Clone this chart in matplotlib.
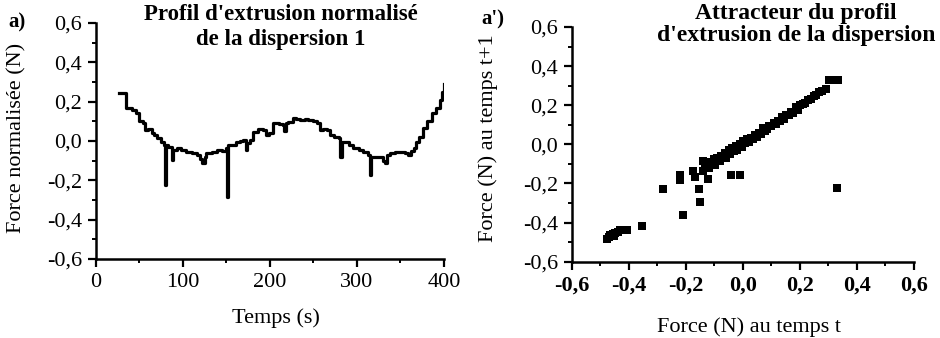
import matplotlib
matplotlib.use("Agg")
import matplotlib.pyplot as plt
from matplotlib.ticker import MultipleLocator, FuncFormatter

plt.rcParams['font.family'] = ['Liberation Serif', 'DejaVu Serif']

# ---------------- data ----------------
time_s = [26, 34, 35, 41, 46, 50, 54, 56, 60, 64, 67, 70, 75, 78, 79, 80, 83, 86, 87, 88,
          93, 98, 104, 110, 116, 120, 122, 125, 127, 133, 139, 145, 150, 151, 152, 156,
          161, 166, 169, 172, 174, 177, 181, 186, 192, 196, 199, 204, 210, 215, 216, 218,
          221, 226, 230, 234, 240, 244, 249, 254, 257, 261, 265, 269, 274, 279, 281, 283,
          286, 291, 296, 302, 307, 313, 315, 316, 322, 326, 330, 332, 335, 338, 344, 349,
          355, 359, 362, 365, 368, 371, 376, 381, 386, 391, 395, 398, 400]
force_norm = [0.243, 0.243, 0.167, 0.160, 0.143, 0.100, 0.092, 0.057, 0.060, 0.040, 0.030,
              0.014, -0.004, -0.020, -0.224, -0.020, -0.029, -0.030, -0.097, -0.046,
              -0.037, -0.045, -0.054, -0.060, -0.071, -0.090, -0.114, -0.080, -0.063,
              -0.055, -0.046, -0.050, -0.037, -0.284, -0.020, -0.020, -0.004, 0.000,
              0.005, -0.046, -0.010, 0.005, 0.048, 0.060, 0.057, 0.031, 0.040, 0.090,
              0.085, 0.082, 0.050, 0.090, 0.099, 0.116, 0.110, 0.107, 0.110, 0.107,
              0.100, 0.090, 0.056, 0.060, 0.056, 0.031, 0.020, 0.014, -0.080, -0.004,
              -0.004, -0.020, -0.037, -0.045, -0.054, -0.071, -0.173, -0.080, -0.080,
              -0.080, -0.100, -0.114, -0.070, -0.063, -0.055, -0.054, -0.060, -0.071,
              -0.050, -0.037, -0.005, 0.022, 0.064, 0.100, 0.141, 0.170, 0.209, 0.250,
              0.290]

force_t = [-0.478, -0.470, -0.462, -0.455, -0.448, -0.440, -0.432, -0.465, -0.452,
           -0.408, -0.355, -0.282, -0.221, -0.221, -0.212, -0.177, -0.169, -0.154,
           -0.152, -0.122, -0.041, -0.012, 0.330,
           -0.140, -0.140, -0.135, -0.130, -0.120, -0.118, -0.110, -0.100, -0.098,
           -0.090, -0.082, -0.078, -0.070, -0.062, -0.058, -0.050, -0.045, -0.040,
           -0.032, -0.025, -0.020, -0.012, -0.005, 0.000, 0.008, 0.015, 0.020, 0.028,
           0.035, 0.042, 0.050, 0.055, 0.062, 0.070, 0.078, 0.085, 0.092, 0.100,
           0.108, 0.115, 0.122, 0.130, 0.138, 0.145, 0.152, 0.160, 0.168, 0.175,
           0.185, 0.192, 0.200, 0.210, 0.218, 0.228, 0.238, 0.248, 0.258, 0.268,
           0.278, 0.290, 0.303, 0.318, 0.332]
force_t1 = [-0.483, -0.475, -0.468, -0.460, -0.452, -0.446, -0.440, -0.465, -0.470,
            -0.440, -0.419, -0.228, -0.155, -0.181, -0.359, -0.138, -0.169, -0.228,
            -0.293, -0.176, -0.155, -0.155, -0.225,
            -0.086, -0.138, -0.110, -0.095, -0.120, -0.090, -0.100, -0.075, -0.105,
            -0.070, -0.085, -0.060, -0.065, -0.045, -0.070, -0.030, -0.050, -0.018,
            -0.035, -0.010, -0.028, 0.000, -0.012, 0.015, 0.005, 0.025, 0.012, 0.035,
            0.028, 0.048, 0.040, 0.060, 0.052, 0.086, 0.070, 0.080, 0.095, 0.092,
            0.110, 0.105, 0.122, 0.118, 0.140, 0.132, 0.150, 0.148, 0.165, 0.160,
            0.190, 0.178, 0.200, 0.205, 0.212, 0.225, 0.232, 0.245, 0.250, 0.267,
            0.272, 0.285, 0.328, 0.330, 0.328]

y_ticks = [-0.6, -0.4, -0.2, 0.0, 0.2, 0.4, 0.6]
x_ticks_left = [0, 100, 200, 300, 400]
x_ticks_right = [-0.6, -0.4, -0.2, 0.0, 0.2, 0.4, 0.6]

def comma_fmt(v, pos=None):
    s = f"{v:.1f}".replace('.', ',')
    if s == "-0,0":
        s = "0,0"
    return s

# ---------------- figure ----------------
fig = plt.figure(figsize=(9.4, 3.38), dpi=100)
ax1 = fig.add_axes([0.1021, 0.2337, 0.3702, 0.6982])
ax2 = fig.add_axes([0.6085, 0.2257, 0.3638, 0.6943])

for ax in (ax1, ax2):
    for sp in ('top', 'right'):
        ax.spines[sp].set_visible(False)
    for sp in ('left', 'bottom'):
        ax.spines[sp].set_linewidth(1.8)
    ax.set_ylim(-0.6, 0.6)
    ax.set_yticks(y_ticks)
    ax.yaxis.set_major_formatter(FuncFormatter(comma_fmt))
    ax.yaxis.set_minor_locator(MultipleLocator(0.1))
    ax.tick_params(which='major', direction='out', length=6, width=1.6,
                   labelsize=16, pad=4)
    ax.tick_params(which='minor', direction='out', length=3, width=1.4)

# left: time series
ax1.plot(time_s, force_norm, color='black', linewidth=2.3, drawstyle='steps-post')
ax1.set_xlim(0, 400)
ax1.set_xticks(x_ticks_left)
ax1.xaxis.set_minor_locator(MultipleLocator(50))

# right: attractor
ax2.scatter(force_t, force_t1, marker='s', s=34, color='black', linewidths=0)
ax2.set_xlim(-0.6, 0.6)
ax2.set_xticks(x_ticks_right)
ax2.xaxis.set_major_formatter(FuncFormatter(comma_fmt))
ax2.xaxis.set_minor_locator(MultipleLocator(0.1))
for lab in ax2.get_xticklabels():
    lab.set_fontweight('bold')

# titles and labels
fig.text(281 / 940, 1 - 15 / 338, "Profil d'extrusion normalisé", ha='center', va='center',
         fontsize=16.5, fontweight='bold')
fig.text(281 / 940, 1 - 39 / 338, "de la dispersion 1", ha='center', va='center',
         fontsize=16.5, fontweight='bold')
fig.text(796 / 940, 1 - 14 / 338, "Attracteur du profil", ha='center', va='center',
         fontsize=17, fontweight='bold')
fig.text(796 / 940, 1 - 36 / 338, "d'extrusion de la dispersion", ha='center', va='center',
         fontsize=17, fontweight='bold')
fig.text(17 / 940, 1 - 22 / 338, "a)", ha='center', va='center', fontsize=15, fontweight='bold')
fig.text(493 / 940, 1 - 19 / 338, "a')", ha='center', va='center', fontsize=15, fontweight='bold')

fig.text(276 / 940, 1 - 318 / 338, "Temps (s)", ha='center', va='center', fontsize=16)
fig.text(749 / 940, 1 - 327 / 338, "Force (N) au temps t", ha='center', va='center', fontsize=16)
fig.text(17 / 940, 1 - 138 / 338, "Force normalisée (N)", ha='center', va='center',
         fontsize=16, rotation=90)
fig.text(488 / 940, 1 - 138 / 338, "Force (N) au temps t+1", ha='center', va='center',
         fontsize=16, rotation=90)

fig.savefig("out.png", dpi=100)
